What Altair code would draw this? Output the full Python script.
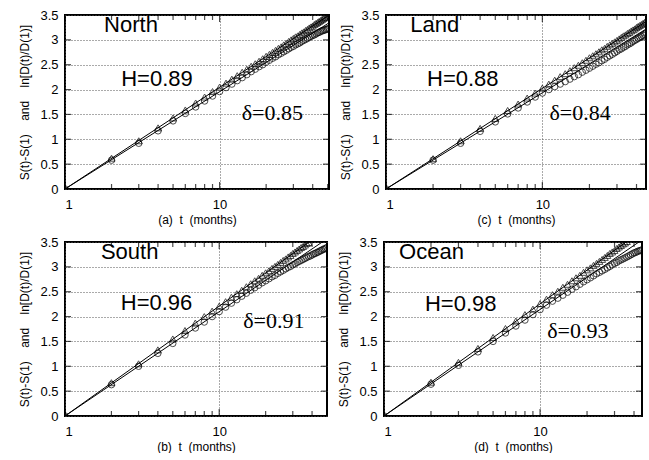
import altair as alt
import pandas as pd

# ---------------- data ----------------
letters = ["a", "c", "b", "d"]
regions = ["North", "Land", "South", "Ocean"]
h_labels = ["H=0.89", "H=0.88", "H=0.96", "H=0.98"]
d_labels = ["\u03b4=0.85", "\u03b4=0.84", "\u03b4=0.91", "\u03b4=0.93"]
x_max = [51, 46, 50, 45]

# S(t)-S(1)  (triangles)
tri_a = [0.00, 0.62, 0.97, 1.23, 1.43, 1.59, 1.73, 1.85, 1.96, 2.05, 2.13, 2.21, 2.28, 2.35, 2.41,
         2.47, 2.52, 2.57, 2.62, 2.67, 2.71, 2.75, 2.79, 2.83, 2.86, 2.90, 2.93, 2.97, 3.00, 3.03,
         3.06, 3.08, 3.11, 3.14, 3.16, 3.19, 3.21, 3.24, 3.26, 3.28, 3.31, 3.33, 3.35, 3.37, 3.39,
         3.41, 3.43, 3.45, 3.46, 3.48, 3.50]
tri_c = [0.00, 0.61, 0.97, 1.22, 1.42, 1.58, 1.71, 1.83, 1.93, 2.03, 2.11, 2.19, 2.26, 2.32, 2.38,
         2.44, 2.49, 2.54, 2.59, 2.64, 2.68, 2.72, 2.76, 2.80, 2.83, 2.87, 2.90, 2.93, 2.96, 2.99,
         3.02, 3.05, 3.08, 3.10, 3.13, 3.15, 3.18, 3.20, 3.22, 3.25, 3.27, 3.29, 3.31, 3.33, 3.35, 3.37]
tri_b = [0.00, 0.67, 1.05, 1.33, 1.55, 1.72, 1.87, 2.00, 2.11, 2.21, 2.30, 2.39, 2.46, 2.53, 2.60,
         2.66, 2.72, 2.77, 2.83, 2.88, 2.92, 2.97, 3.01, 3.05, 3.09, 3.13, 3.16, 3.20, 3.23, 3.27,
         3.30, 3.33, 3.36, 3.39, 3.41, 3.44, 3.47, 3.49]
tri_d = [0.00, 0.68, 1.08, 1.36, 1.58, 1.76, 1.91, 2.04, 2.15, 2.26, 2.35, 2.44, 2.51, 2.59, 2.65,
         2.72, 2.78, 2.83, 2.89, 2.94, 2.98, 3.03, 3.07, 3.11, 3.15, 3.19, 3.23, 3.27, 3.30, 3.33,
         3.37, 3.40, 3.43, 3.46, 3.48, 3.51]

# ln[D(t)/D(1)]  (circles)
cir_a = [0.00, 0.58, 0.92, 1.17, 1.37, 1.52, 1.65, 1.77, 1.87, 1.96, 2.04, 2.11, 2.18, 2.24, 2.30,
         2.36, 2.41, 2.46, 2.50, 2.55, 2.59, 2.63, 2.66, 2.70, 2.73, 2.76, 2.79, 2.82, 2.85, 2.87,
         2.90, 2.92, 2.94, 2.97, 2.99, 3.01, 3.03, 3.05, 3.07, 3.09, 3.10, 3.12, 3.14, 3.15, 3.17,
         3.18, 3.19, 3.20, 3.21, 3.22, 3.23]
cir_c = [0.00, 0.58, 0.92, 1.16, 1.35, 1.51, 1.63, 1.75, 1.85, 1.93, 2.00, 2.06, 2.11, 2.16, 2.21,
         2.26, 2.30, 2.35, 2.39, 2.43, 2.47, 2.51, 2.54, 2.58, 2.61, 2.65, 2.68, 2.71, 2.74, 2.77,
         2.80, 2.82, 2.85, 2.87, 2.90, 2.92, 2.94, 2.97, 2.99, 3.01, 3.03, 3.05, 3.07, 3.09, 3.11, 3.13]
cir_b = [0.00, 0.63, 1.00, 1.26, 1.46, 1.63, 1.77, 1.89, 2.00, 2.10, 2.19, 2.27, 2.34, 2.41, 2.47,
         2.53, 2.58, 2.63, 2.68, 2.72, 2.76, 2.80, 2.83, 2.87, 2.90, 2.93, 2.96, 2.99, 3.01, 3.04,
         3.06, 3.09, 3.11, 3.13, 3.15, 3.17, 3.19, 3.21, 3.22, 3.24, 3.26, 3.27, 3.29, 3.30, 3.32,
         3.33, 3.35, 3.36, 3.37, 3.39]
cir_d = [0.00, 0.64, 1.02, 1.29, 1.50, 1.67, 1.81, 1.93, 2.04, 2.14, 2.23, 2.31, 2.37, 2.43, 2.49,
         2.55, 2.60, 2.65, 2.70, 2.74, 2.78, 2.82, 2.86, 2.89, 2.92, 2.95, 2.98, 3.01, 3.04, 3.07,
         3.09, 3.12, 3.14, 3.16, 3.18, 3.20, 3.22, 3.24, 3.26, 3.28, 3.29, 3.31, 3.32, 3.33, 3.34]

tri_series = [tri_a, tri_c, tri_b, tri_d]
cir_series = [cir_a, cir_c, cir_b, cir_d]

# fitted straight lines (semi-log): value at t=1 and at t=60
fit_t = [1, 60]
fit_h = [[0, 3.64], [0, 3.60], [0, 3.93], [0, 4.01]]
fit_d = [[0, 3.48], [0, 3.44], [0, 3.73], [0, 3.81]]

# annotation anchors (t, y)
name_pos = [(1.79, 3.30), (1.43, 3.30), (1.71, 3.30), (1.25, 3.30)]
h_pos = [(2.31, 2.22), (1.83, 2.22), (2.30, 2.27), (1.83, 2.25)]
d_pos = [(13.9, 1.52), (11.1, 1.52), (14.3, 1.91), (11.1, 1.71)]

x_major = [1, 10]
x_minor = [2, 3, 4, 5, 6, 7, 8, 9, 20, 30, 40, 50]
y_ticks = [0, 0.5, 1, 1.5, 2, 2.5, 3, 3.5]
y_inner = [0.5, 1, 1.5, 2, 2.5, 3]

SANS = "Liberation Sans, Arial, sans-serif"
NB = "\u00a0"
Y_TITLE = "S(t)-S(1)" + NB * 4 + "and" + NB * 4 + "ln[D(t)/D(1)]"
H = 174


def panel(i, width):
    xm = x_max[i]
    xs = alt.Scale(type="log", domain=[1, xm], nice=False)
    ys = alt.Scale(domain=[0, 3.5], nice=False, zero=False)
    xtitle = "(" + letters[i] + ")" + NB * 2 + "t" + NB * 2 + "(months)"
    xax = alt.Axis(values=x_major, format="d", title=xtitle, grid=True, gridDash=[1, 2],
                   gridColor="#555", ticks=False, domain=False, labelPadding=9, titlePadding=3,
                   labelOverlap=False, titleFontWeight="normal")
    yax = alt.Axis(values=y_ticks, format="~g", title=Y_TITLE, grid=True, gridDash=[1, 2],
                   gridColor="#555", ticks=False, domain=False, labelPadding=7, titlePadding=8,
                   labelOverlap=False, titleFontWeight="normal")

    def X(**kw):
        return alt.X("t:Q", scale=xs, axis=xax, **kw)

    def Y(**kw):
        return alt.Y("v:Q", scale=ys, axis=yax, **kw)

    tri = pd.DataFrame({"t": list(range(1, len(tri_series[i]) + 1)), "v": tri_series[i]})
    tri = tri[tri.t <= xm]
    cir = pd.DataFrame({"t": list(range(1, len(cir_series[i]) + 1)), "v": cir_series[i]})
    cir = cir[cir.t <= xm]
    fits = pd.DataFrame({"t": fit_t * 2, "v": fit_h[i] + fit_d[i], "k": ["H", "H", "D", "D"]})

    lines = alt.Chart(fits).mark_line(color="black", strokeWidth=1, clip=True).encode(
        x=X(), y=Y(), detail="k:N")
    tri_m = alt.Chart(tri).mark_point(shape="triangle-up", filled=False, color="black",
                                      size=48, strokeWidth=1, clip=True).encode(x=X(), y=Y())
    cir_m = alt.Chart(cir).mark_point(shape="circle", filled=False, color="black",
                                      size=42, strokeWidth=1, clip=True).encode(x=X(), y=Y())

    # inward ticks (gnuplot style): tick marks hugging the inside of the frame
    xt = pd.DataFrame({"t": x_major + x_minor,
                       "L": [14] * len(x_major) + [10] * len(x_minor)})
    xt = xt[xt.t <= xm]
    size_enc = alt.Size("L:Q", scale=None, legend=None)
    top_t = alt.Chart(xt).mark_tick(color="black", thickness=1.2, orient="vertical",
                                    clip=True).encode(x=X(), y=alt.value(0), size=size_enc)
    bot_t = alt.Chart(xt).mark_tick(color="black", thickness=1.2, orient="vertical",
                                    clip=True).encode(x=X(), y=alt.value(H), size=size_enc)
    yt = pd.DataFrame({"v": y_inner, "L": [12] * len(y_inner)})
    left_t = alt.Chart(yt).mark_tick(color="black", thickness=1.2, orient="horizontal",
                                     clip=True).encode(y=Y(), x=alt.value(0), size=size_enc)
    right_t = alt.Chart(yt).mark_tick(color="black", thickness=1.2, orient="horizontal",
                                      clip=True).encode(y=Y(), x=alt.value(width), size=size_enc)

    ann = pd.DataFrame({"t": [name_pos[i][0], h_pos[i][0]], "v": [name_pos[i][1], h_pos[i][1]],
                        "s": [regions[i], h_labels[i]]})
    ann_s = alt.Chart(ann).mark_text(align="left", baseline="middle", font="Liberation Sans",
                                     fontSize=22, color="black").encode(x=X(), y=Y(), text="s:N")
    dann = pd.DataFrame({"t": [d_pos[i][0]], "v": [d_pos[i][1]], "s": [d_labels[i]]})
    ann_d = alt.Chart(dann).mark_text(align="left", baseline="middle", font="Liberation Serif",
                                      fontSize=22, color="black").encode(x=X(), y=Y(), text="s:N")

    return alt.layer(lines, tri_m, cir_m, top_t, bot_t, left_t, right_t,
                     ann_s, ann_d).properties(width=width, height=H)


row1 = alt.hconcat(panel(0, 264), panel(1, 260), spacing=8)
row2 = alt.hconcat(panel(2, 262), panel(3, 258), spacing=8)
chart = alt.vconcat(row1, row2, spacing=9).properties(
    padding={"top": 8, "left": 17, "right": 0, "bottom": 0}
).configure(background="white").configure_view(
    stroke="black", strokeWidth=2
).configure_axis(
    labelFont=SANS, titleFont=SANS, labelFontSize=13, titleFontSize=12,
    titleFontWeight="normal", labelColor="black", titleColor="black"
)

chart.save("out.html", embed_options={"renderer": "svg", "actions": False})
